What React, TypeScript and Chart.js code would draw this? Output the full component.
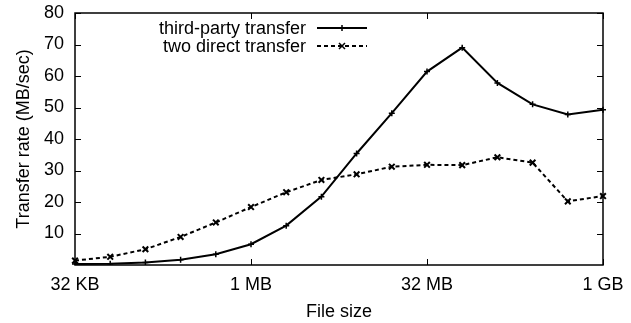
import React, { useEffect, useRef } from "react";
import { Chart, registerables } from "chart.js";

Chart.register(...registerables);

const categories = [
  "32 KB", "64 KB", "128 KB", "256 KB", "512 KB", "1 MB", "2 MB", "4 MB",
  "8 MB", "16 MB", "32 MB", "64 MB", "128 MB", "256 MB", "512 MB", "1 GB",
];
const tickLabels = ["32 KB", "1 MB", "32 MB", "1 GB"];
const thirdParty = [0.3, 0.4, 0.8, 1.7, 3.4, 6.6, 12.5, 21.7, 35.4, 48.2, 61.4, 69.0, 57.8, 51.0, 47.8, 49.3];
const twoDirect = [1.4, 2.6, 5.0, 8.9, 13.5, 18.4, 23.1, 27.0, 28.8, 31.2, 31.8, 31.7, 34.2, 32.5, 20.2, 21.9];
const seriesNames = ["third-party transfer", "two direct transfer"];
const yTicks = [10, 20, 30, 40, 50, 60, 70, 80];

const FONT = "Liberation Sans, Arial, Helvetica, sans-serif";
const FS = 18;

const framePlugin = {
  id: "frame",
  afterDatasetsDraw(chart: any) {
    const { ctx, chartArea: a, scales } = chart;
    ctx.save();
    ctx.strokeStyle = "#000";
    ctx.lineWidth = 1.5;
    ctx.setLineDash([]);
    ctx.strokeRect(a.left, a.top, a.right - a.left, a.bottom - a.top);
    ctx.lineWidth = 1;
    const tl = 6;
    ctx.beginPath();
    yTicks.forEach((v) => {
      const y = Math.round(scales.y.getPixelForValue(v)) + 0.5;
      ctx.moveTo(a.left, y); ctx.lineTo(a.left + tl, y);
      ctx.moveTo(a.right, y); ctx.lineTo(a.right - tl, y);
    });
    tickLabels.forEach((lab) => {
      const idx = categories.indexOf(lab);
      const x = Math.round(scales.x.getPixelForValue(idx)) + 0.5;
      ctx.moveTo(x, a.bottom); ctx.lineTo(x, a.bottom - tl);
      ctx.moveTo(x, a.top); ctx.lineTo(x, a.top + tl);
    });
    ctx.stroke();

    // legend
    ctx.font = `${FS}px ${FONT}`;
    ctx.fillStyle = "#000";
    ctx.textAlign = "right";
    ctx.textBaseline = "middle";
    const rows = [28, 46];
    chart.data.datasets.forEach((ds: any, i: number) => {
      const y = rows[i];
      ctx.fillText(seriesNames[i], 306, y + 1);
      ctx.beginPath();
      ctx.lineWidth = 2;
      ctx.setLineDash(ds.borderDash || []);
      ctx.moveTo(317, y);
      ctx.lineTo(367, y);
      ctx.stroke();
      ctx.setLineDash([]);
      ctx.lineWidth = 1.5;
      const cx = 342;
      const r = ds.pointRadius;
      ctx.beginPath();
      if (ds.pointStyle === "cross") {
        ctx.moveTo(cx - r, y); ctx.lineTo(cx + r, y);
        ctx.moveTo(cx, y - r); ctx.lineTo(cx, y + r);
      } else {
        const d = r * 0.75;
        ctx.moveTo(cx - d, y - d); ctx.lineTo(cx + d, y + d);
        ctx.moveTo(cx - d, y + d); ctx.lineTo(cx + d, y - d);
      }
      ctx.stroke();
    });
    ctx.restore();
  },
};

export default function App() {
  const ref = useRef<HTMLCanvasElement>(null);
  useEffect(() => {
    document.body.style.margin = "0";
    const chart = new Chart(ref.current!, {
      type: "line",
      data: {
        labels: categories,
        datasets: [
          {
            label: seriesNames[0],
            data: thirdParty,
            borderColor: "#000",
            backgroundColor: "#000",
            borderWidth: 2,
            pointStyle: "cross",
            pointRadius: 3,
            pointBorderWidth: 1.5,
            tension: 0,
          },
          {
            label: seriesNames[1],
            data: twoDirect,
            borderColor: "#000",
            backgroundColor: "#000",
            borderWidth: 2,
            borderDash: [4, 3],
            pointStyle: "crossRot",
            pointRadius: 4,
            pointBorderWidth: 2,
            tension: 0,
          },
        ],
      },
      options: {
        responsive: false,
        animation: false,
        layout: { padding: { left: 0, top: 13, right: 28, bottom: 0 } },
        plugins: { legend: { display: false }, tooltip: { enabled: false } },
        scales: {
          x: {
            type: "category",
            offset: false,
            grid: { display: false, drawTicks: false },
            border: { display: false },
            ticks: {
              autoSkip: false,
              maxRotation: 0,
              padding: 9,
              color: "#000",
              font: { family: FONT, size: FS },
              callback: (v: any, i: number) =>
                tickLabels.includes(categories[i]) ? categories[i] : "",
            },
            title: {
              display: true,
              text: "File size",
              color: "#000",
              font: { family: FONT, size: FS },
              padding: { top: 4, bottom: 0 },
            },
            afterFit: (s: any) => {
              s.height = 58;
              s.paddingLeft = 0;
              s.paddingRight = 0;
            },
          },
          y: {
            min: 0,
            max: 80,
            grid: { display: false, drawTicks: false },
            border: { display: false },
            afterBuildTicks: (s: any) => { s.ticks = yTicks.map((v) => ({ value: v })); },
            ticks: {
              padding: 11,
              color: "#000",
              font: { family: FONT, size: FS },
            },
            title: {
              display: true,
              text: "Transfer rate (MB/sec)",
              color: "#000",
              font: { family: FONT, size: FS },
              padding: { top: 13, bottom: 4 },
            },
            afterFit: (s: any) => {
              s.width = 75;
              s.paddingTop = 0;
              s.paddingBottom = 0;
            },
          },
        },
      },
      plugins: [framePlugin],
    });
    return () => chart.destroy();
  }, []);
  return <canvas ref={ref} width={631} height={323} style={{ display: "block" }} />;
}
